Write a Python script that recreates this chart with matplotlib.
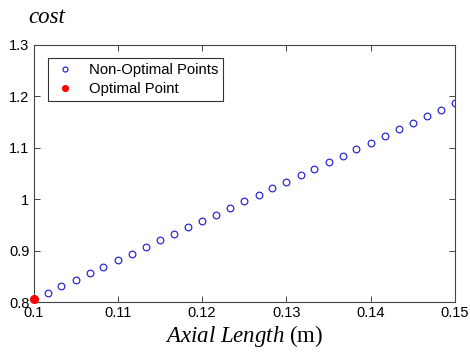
import matplotlib
matplotlib.use('Agg')
import matplotlib.pyplot as plt
from matplotlib.ticker import FormatStrFormatter, MultipleLocator

# Axial length (m) and cost of each evaluated design
axial_length = [0.1000, 0.1017, 0.1033, 0.1050, 0.1067, 0.1083, 0.1100, 0.1117,
                0.1133, 0.1150, 0.1167, 0.1183, 0.1200, 0.1217, 0.1233, 0.1250,
                0.1267, 0.1283, 0.1300, 0.1317, 0.1333, 0.1350, 0.1367, 0.1383,
                0.1400, 0.1417, 0.1433, 0.1450, 0.1467, 0.1483, 0.1500]
cost = [0.806, 0.818, 0.831, 0.843, 0.856, 0.869, 0.882, 0.894,
        0.907, 0.920, 0.932, 0.945, 0.958, 0.970, 0.983, 0.996,
        1.008, 1.021, 1.034, 1.047, 1.059, 1.072, 1.085, 1.097,
        1.110, 1.123, 1.136, 1.148, 1.161, 1.174, 1.187]
opt_length = [0.1000]
opt_cost = [0.806]

plt.rcParams['font.family'] = 'Liberation Sans'
plt.rcParams['mathtext.fontset'] = 'custom'
plt.rcParams['mathtext.rm'] = 'Liberation Serif'
plt.rcParams['mathtext.it'] = 'Liberation Serif:italic'

fig = plt.figure(figsize=(4.7, 3.6), dpi=100)
ax = fig.add_axes([0.0713, 0.161, 0.8968, 0.714])

ax.plot(axial_length, cost, 'o', markerfacecolor='none', markeredgecolor='#2b2bd0',
        markersize=4.8, markeredgewidth=0.9, label='Non-Optimal Points')
ax.plot(opt_length, opt_cost, 'o', color='#ff0000', markersize=5.5,
        clip_on=False, zorder=5, label='Optimal Point')

ax.set_xlim(0.1, 0.15)
ax.set_ylim(0.8, 1.3)
ax.xaxis.set_major_locator(MultipleLocator(0.01))
ax.yaxis.set_major_locator(MultipleLocator(0.1))
ax.xaxis.set_major_formatter(FormatStrFormatter('%g'))
ax.yaxis.set_major_formatter(FormatStrFormatter('%g'))
ax.tick_params(direction='in', top=True, right=True, length=4, width=0.7,
               color='#444444', labelsize=10.5, pad=3)
for s in ax.spines.values():
    s.set_color('#444444')
    s.set_linewidth(0.8)

ax.set_xlabel(r'$\mathit{Axial\ Length}$ (m)', family='Liberation Serif',
              fontsize=16.5, labelpad=2)
fig.text(0.06, 0.935, 'cost', family='Liberation Serif', style='italic',
         fontsize=16.5, ha='left', va='baseline')

leg = ax.legend(loc='upper left', bbox_to_anchor=(0.034, 0.949), borderaxespad=0,
                fontsize=10.7, fancybox=False, edgecolor='#333333', framealpha=1,
                markerscale=0.75, handlelength=1.6, borderpad=0.35,
                labelspacing=0.3, handletextpad=0.8)
leg.get_frame().set_linewidth(0.8)

fig.savefig('out.png', dpi=100)
